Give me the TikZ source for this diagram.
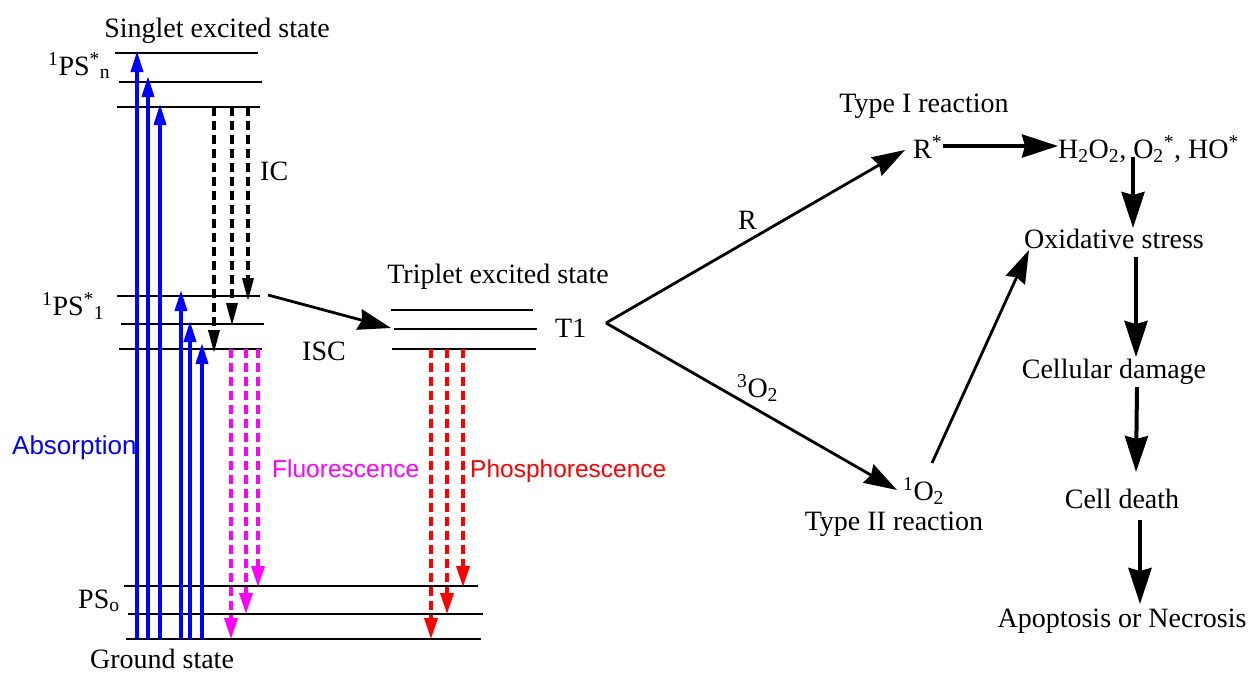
\documentclass[tikz,border=0pt]{standalone}
\usepackage{fontspec}
\setmainfont{Liberation Serif}
\newfontfamily\labsans{Liberation Sans}
\usetikzlibrary{arrows.meta}
\definecolor{absblue}{RGB}{0,0,255}
\definecolor{flmag}{RGB}{255,0,255}
\definecolor{phred}{RGB}{255,0,0}
\tikzset{
  txt/.style={inner sep=0pt,font=\fontsize{28}{32}\selectfont},
  sanstxt/.style={inner sep=0pt},
  level/.style={line width=2.4pt},
  absarrow/.style={absblue,line width=3.6pt,-{Triangle[length=21pt,width=12pt]}},
  icarrow/.style={black,line width=3.4pt,dash pattern=on 9pt off 5pt,-{Triangle[length=23pt,width=11pt]}},
  flarrow/.style={flmag,line width=3.4pt,dash pattern=on 9pt off 5pt,-{Triangle[length=21pt,width=13pt]}},
  pharrow/.style={phred,line width=3.4pt,dash pattern=on 9pt off 5pt,-{Triangle[length=21pt,width=13pt]}},
  bigarrow/.style={line width=2.8pt,-{Stealth[length=33pt,width=21pt,inset=3pt]}},
  flowarrow/.style={line width=4pt,-{Stealth[length=36pt,width=23pt,inset=3pt]}},
}
\begin{document}
\begin{tikzpicture}[x=1pt,y=-1pt]
\useasboundingbox (0,0) rectangle (1250,673);
% ---------------- energy levels
\foreach \n/\y/\a/\b in {s1/53/115/258, s2/82/119/262, s3/107/117/260,
                         s4/296/117/260, s5/324/121/264, s6/349/119/262,
                         t1/310/391/533, t2/329/394/537, t3/349/392/536,
                         g1/586/124/478, g2/614/128/483, g3/639/126/481}{
  \coordinate (\n L) at (\a,\y);
  \coordinate (\n R) at (\b,\y);
  \draw[level] (\n L) -- (\n R);
}
% ---------------- absorption arrows
\foreach \i/\x/\t in {1/137/51, 2/148/76, 3/160/104, 4/181/290, 5/190/321, 6/202/343}{
  \coordinate (ab\i) at (\x,639);
  \coordinate (at\i) at (\x,\t);
  \draw[absarrow] (ab\i) -- (at\i);
}
% ---------------- internal conversion
\foreach \i/\x/\t in {1/248/301, 2/232/326, 3/214/353}{
  \coordinate (ic\i) at (\x,107);
  \coordinate (ict\i) at (\x,\t);
  \draw[icarrow] (ic\i) -- (ict\i);
}
% ---------------- fluorescence
\foreach \i/\x/\t in {1/231/639, 2/246/614, 3/258/587}{
  \coordinate (fl\i) at (\x,349);
  \coordinate (flt\i) at (\x,\t);
  \draw[flarrow] (fl\i) -- (flt\i);
}
% ---------------- phosphorescence
\foreach \i/\x/\t in {1/431/639, 2/447/614, 3/463/587}{
  \coordinate (ph\i) at (\x,349);
  \coordinate (pht\i) at (\x,\t);
  \draw[pharrow] (ph\i) -- (pht\i);
}
% ---------------- ISC
\coordinate (iscA) at (268,295);
\coordinate (iscB) at (391,328);
\draw[bigarrow] (iscA) -- (iscB);
% ---------------- labels left
\node[txt,anchor=base] (singlet) at (217,37) {Singlet excited state};
\node[txt,anchor=base west] (psn) at (48,75) {\textsuperscript{1}PS\textsuperscript{*}\textsubscript{n}};
\node[txt,anchor=base west] (ps1) at (42,315) {\textsuperscript{1}PS\textsuperscript{*}\textsubscript{1}};
\node[txt,anchor=base west] (pso) at (78,608) {PS\textsubscript{o}};
\node[txt,anchor=base] (ground) at (162,668) {Ground state};
\node[txt,anchor=base west] (ic) at (260,180) {IC};
\node[txt,anchor=base west] (isc) at (302,360) {ISC};
\node[txt,anchor=base] (triplet) at (498,283) {Triplet excited state};
\node[txt,anchor=base west] (tone) at (555,337) {T1};
\node[sanstxt,anchor=base west,font=\labsans\fontsize{26}{30}\selectfont,text=absblue] (absorp) at (12,454) {Absorption};
\node[sanstxt,anchor=base west,font=\labsans\fontsize{24.5}{29}\selectfont,text=flmag] (fluor) at (272,477) {Fluorescence};
\node[sanstxt,anchor=base west,font=\labsans\fontsize{24.5}{29}\selectfont,text=phred] (phosph) at (470,477) {Phosphorescence};
% ---------------- right side
\coordinate (fork) at (606,323);
\node[txt,anchor=base west] (rlab) at (738,229) {R};
\node[txt,anchor=base west] (o3lab) at (737,397) {\textsuperscript{3}O\textsubscript{2}};
\node[txt,anchor=base] (type1) at (924,112) {Type I reaction};
\node[txt,anchor=base west] (rstar) at (913,158) {R\textsuperscript{*}};
\node[txt,anchor=base west] (ros) at (1058,158) {H\textsubscript{2}O\textsubscript{2}, O\textsubscript{2}\textsuperscript{*}, HO\textsuperscript{*}};
\node[txt,anchor=base] (oxid) at (1114,248) {Oxidative stress};
\node[txt,anchor=base west] (o1) at (903,500) {\textsuperscript{1}O\textsubscript{2}};
\node[txt,anchor=base] (type2) at (894,530) {Type II reaction};
\node[txt,anchor=base] (cellular) at (1114,378) {Cellular damage};
\node[txt,anchor=base] (celldeath) at (1122,508) {Cell death};
\node[txt,anchor=base] (apop) at (1122,627) {Apoptosis or Necrosis};
% connector ends
\coordinate (rstarT) at (905,150);
\coordinate (o1T) at (897,490);
\coordinate (rstarR) at (943,146);
\coordinate (rosL) at (1058,146);
\coordinate (rosB) at (1133,157);
\coordinate (oxT) at (1133,228);
\coordinate (o1U) at (932,463);
\coordinate (oxL) at (1029,250);
\coordinate (oxB) at (1136,257);
\coordinate (celT) at (1136,357);
\coordinate (celB) at (1137,387);
\coordinate (cdT) at (1136,472);
\coordinate (cdB) at (1140,520);
\coordinate (apT) at (1140,604);
\draw[bigarrow] (fork) -- (rstarT);
\draw[bigarrow] (fork) -- (o1T);
\draw[flowarrow] (rstarR) -- (rosL);
\draw[flowarrow] (rosB) -- (oxT);
\draw[bigarrow] (o1U) -- (oxL);
\draw[flowarrow] (oxB) -- (celT);
\draw[flowarrow] (celB) -- (cdT);
\draw[flowarrow] (cdB) -- (apT);
\end{tikzpicture}
\end{document}
